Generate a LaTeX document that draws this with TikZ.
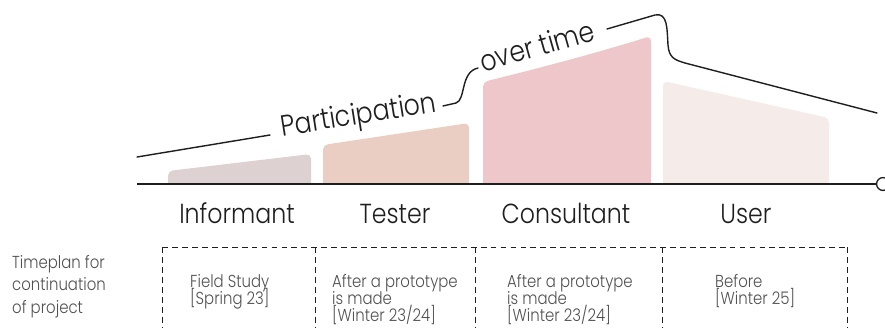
\documentclass[tikz,border=0pt]{standalone}
\usepackage{fontspec}
\setmainfont{Poppins}[UprightFont=* Light, FakeStretch=0.86]
\definecolor{InkCol}{RGB}{30,30,30}
\definecolor{NoteCol}{RGB}{80,80,80}
\definecolor{BarInf}{RGB}{222,209,210}
\definecolor{BarTes}{RGB}{234,206,195}
\definecolor{BarCon}{RGB}{237,199,201}
\definecolor{BarUsr}{RGB}{245,236,233}
\setlength{\lineskiplimit}{-20pt}
\tikzset{
  tpaxis/.style={line width=1.1pt, draw=InkCol},
  tpwave/.style={line width=1.2pt, draw=InkCol, line cap=round},
  tpgrid/.style={line width=0.8pt, draw=InkCol, dash pattern=on 5pt off 3.5pt},
  tprole/.style={font=\fontsize{23.5}{24}\selectfont, text=InkCol, inner sep=0pt, anchor=base},
  tphead/.style={font=\fontsize{25}{25}\selectfont, text=InkCol, inner sep=0pt, anchor=base},
  tpnote/.style={font=\fontsize{14.8}{14.4}\selectfont, text=NoteCol,
    align=left, inner sep=0pt, anchor=base west},
  tpend/.style={circle, draw=InkCol, line width=1.1pt, fill=white, inner sep=0pt, minimum size=11pt}
}
\newcommand{\TPBar}[5]{%
  \fill[#5, rounded corners=4pt] (#1,190) -- (#1,#2) -- (#3,#4) -- (#3,190) -- cycle;}

\begin{document}
\begin{tikzpicture}[x=0.03cm,y=-0.03cm]
  \useasboundingbox (0,0) rectangle (885,327);
  % bars
  \begin{scope}
    \clip (0,0) rectangle (885,184);
    \TPBar{168}{171}{311}{154}{BarInf}
    \TPBar{323}{145}{469}{123}{BarTes}
    \fill[BarCon, rounded corners=4pt] (483,190) -- (483,82)
      .. controls (540,68) and (600,52) .. (651,36) -- (651,190) -- cycle;
    \TPBar{663}{81}{829}{118}{BarUsr}
  \end{scope}
  \node[tpend] (tend) at (883,184) {};
  \draw[tpaxis] (137,184) -- (tend.west);
  % participation over time
  \node[tphead, rotate=9] (part) at (360,124) {Participation};
  \node[tphead, rotate=16] (otime) at (540,56) {over time};
  \draw[tpwave] (137,157) -- (270,135);
  \draw[tpwave] (443,106) -- (456,103) .. controls (466,100) and (460,72) .. (478,68);
  \draw[tpwave] (607,29) -- (655,15) .. controls (668,12) and (667,30) .. (668,45)
    .. controls (669,58) and (675,60) .. (685,63) -- (877,113);
  % roles
  \foreach \x/\role/\nm in {237/Informant/inf, 395/Tester/tes, 566/Consultant/con, 746/User/usr}
    \node[tprole] (\nm) at (\x,223) {\role};
  % timeplan
  \node[tpnote, font=\fontsize{14.8}{19}\selectfont] (tplan) at (12,313) {Timeplan for\\continuation\\of project};
  \draw[tpgrid] (162,247) -- (847,247);
  \foreach \x in {162,315,475,662,847}
    \draw[tpgrid] (\x,247) -- (\x,330);
  \foreach \x/\yy/\txt [count=\i] in {190/304.5/{Field Study\\{[Spring 23]}},
      332/321/{After a prototype\\is made\\{[Winter 23/24]}},
      507/321/{After a prototype\\is made\\{[Winter 23/24]}},
      715/304.5/{Before\\{[Winter 25]}}}
    \node[tpnote] (note\i) at (\x,\yy) {\txt};
\end{tikzpicture}
\end{document}
